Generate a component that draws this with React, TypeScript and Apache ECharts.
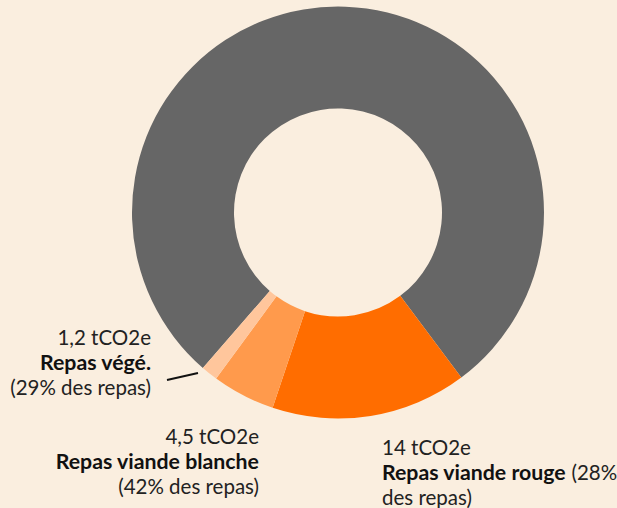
import React, { useEffect, useRef } from "react";
import * as echarts from "echarts";

const categories = ["Autres", "Repas viande rouge", "Repas viande blanche", "Repas végé."];
const values = [71.5, 14, 4.5, 1.2];
const colors = ["#666666", "#FF6D00", "#FF9A4C", "#FFC69C"];
const valueLabels = ["14 tCO2e", "4,5 tCO2e", "1,2 tCO2e"];
const shareLabels = ["28%", "42%", "29%"];

const FONT = "'Source Sans Pro', Lato, 'Noto Sans', sans-serif";
const BG = "#FAEEDF";

export default function App() {
  const ref = useRef<HTMLDivElement>(null);
  useEffect(() => {
    if (!ref.current) return;
    document.body.style.margin = "0";
    document.body.style.background = BG;
    const chart = echarts.init(ref.current, null, { renderer: "svg" });
    const rich = {
      a: { fontFamily: FONT, fontSize: 20.5, fontWeight: "normal", fill: "#222", color: "#222", lineHeight: 25 },
      b: { fontFamily: FONT, fontSize: 21.3, fontWeight: "bold", fill: "#111", color: "#111", lineHeight: 25 },
    };
    chart.setOption({
      animation: false,
      backgroundColor: BG,
      series: [
        {
          type: "pie",
          center: [338, 212.5],
          radius: [104, 206],
          startAngle: 229,
          clockwise: true,
          silent: true,
          label: { show: false },
          labelLine: { show: false },
          data: categories.map((c, i) => ({ name: c, value: values[i], itemStyle: { color: colors[i] } })),
        },
      ],
      graphic: [
        {
          type: "text",
          x: 151,
          y: 324,
          style: {
            text: `{a|${valueLabels[2]}}\n{b|${categories[3]}}\n{a|(${shareLabels[2]} des repas)}`,
            rich,
            align: "right",
            verticalAlign: "top",
          },
        },
        {
          type: "line",
          shape: { x1: 167, y1: 380, x2: 198, y2: 373 },
          style: { stroke: "#111", lineWidth: 2 },
        },
        {
          type: "text",
          x: 259,
          y: 423,
          style: {
            text: `{a|${valueLabels[1]}}\n{b|${categories[2]}}\n{a|(${shareLabels[1]} des repas)}`,
            rich,
            align: "right",
            verticalAlign: "top",
          },
        },
        {
          type: "text",
          x: 382,
          y: 434,
          style: {
            text: `{a|${valueLabels[0]}}\n{b|${categories[1]}}{a| (${shareLabels[0]}}\n{a|des repas)}`,
            rich,
            align: "left",
            verticalAlign: "top",
          },
        },
      ],
    });
    return () => chart.dispose();
  }, []);
  return <div ref={ref} style={{ position: "fixed", left: 0, top: 0, width: 617, height: 508, background: BG }} />;
}
